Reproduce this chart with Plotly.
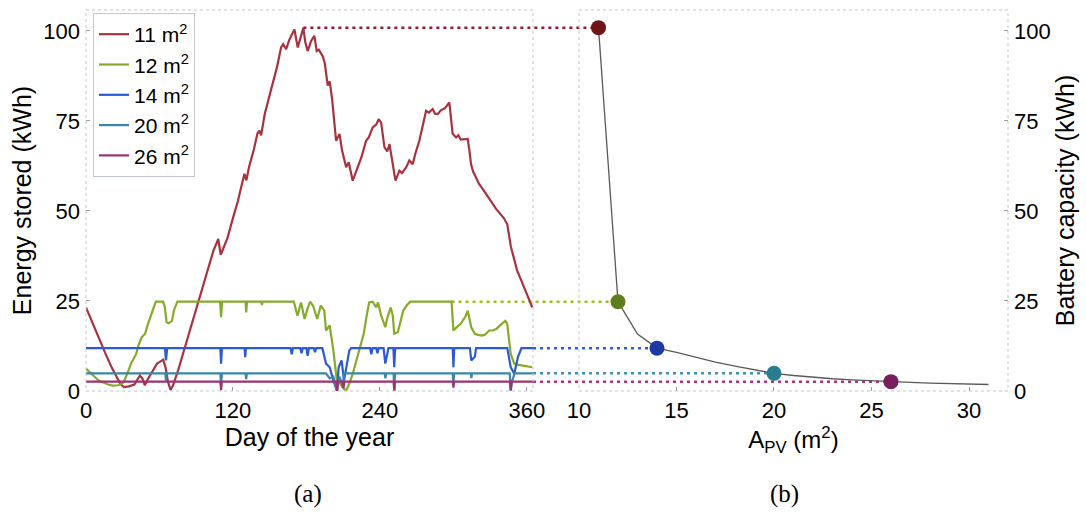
import plotly.graph_objects as go

# ---------------- data ----------------
series_names = ["11 m<sup>2</sup>", "12 m<sup>2</sup>", "14 m<sup>2</sup>", "20 m<sup>2</sup>", "26 m<sup>2</sup>"]
series_area = [11, 12, 14, 20, 26]

day_11 = [0, 5, 10, 16, 21, 25, 28, 31, 35, 39.5, 44, 46, 48, 50, 54, 58, 60, 63, 65, 67, 69, 71, 75, 80, 86, 92,
          98, 104, 108, 110, 112, 115.6, 120, 124, 127, 129.4, 131, 133, 137, 140, 141.6, 143, 146, 150, 152.5, 156,
          159.3, 161, 163.4, 166, 168.8, 170.2, 172.9, 175, 177.5, 179, 181, 183.8, 186.5, 188.4, 190, 193.3, 195,
          197.4, 199, 201, 204.2, 207, 209, 212.4, 214.5, 217.8, 219.5, 221.9, 225, 228.7, 231, 234.1, 237, 239, 241,
          243.7, 246, 247.8, 249, 252.7, 255.9, 258, 261.4, 264, 266.8, 269, 272.2, 275, 277.7, 280, 283.1, 285,
          287.2, 290, 293, 296.7, 298, 299.4, 302.2, 304, 306, 311.7, 313, 314.4, 316, 318.5, 321, 323.9, 327, 330.8,
          335, 341, 344, 347, 349.7, 352, 355.6, 360, 364.4]
val_11 = [23.2, 19, 15, 10.3, 6.5, 3.9, 2.0, 1.1, 1.3, 1.8, 4.3, 3.5, 1.6, 3.0, 5.5, 7.6, 8.0, 8.7, 6.5, 2.5, 0.3, 1.5,
          5.5, 11.2, 18.5, 25.0, 32, 38.9, 42.2, 37.8, 39.5, 42.6, 48, 52.7, 57, 60.3, 58.5, 62, 67, 71.5, 72.3, 71,
          77, 82, 85.2, 90, 95.4, 96.3, 94.9, 97.5, 99.5, 100.4, 95.4, 98, 100.9, 97, 94.4, 97.2, 98.6, 94.4, 94.8, 93,
          91, 84.8, 86, 81, 69.5, 71.4, 67, 62.1, 63.5, 58.4, 60, 62.1, 65, 69.5, 70.5, 73.2, 74, 75.5, 74.5, 67.7,
          66.5, 68.6, 66, 58.4, 61.2, 60.5, 62.1, 64, 63, 66, 69.5, 73.5, 77.8, 77.3, 78.3, 77, 76.9, 78, 78.5, 80.1,
          76, 71.4, 70.4, 71, 69.8, 70, 67, 63, 61, 59.4, 57.5, 56.1, 54.5, 52.9, 50.5, 48.1, 46.3, 40, 36.1, 33.5,
          30.6, 27, 23.2]

day_12 = [0, 4, 7.3, 10, 13.2, 18, 22, 26, 29.3, 31, 33.7, 37, 41, 43, 45.4, 48.3, 50, 52.7, 55, 57, 63, 64.4, 65.8,
          67.5, 70.2, 71.7, 74.6, 109.5, 110.3, 111.2, 130.3, 130.8, 131.5, 143, 143.6, 144.3, 169.7, 172.7, 175.6,
          178.5, 181, 183, 185.5, 188.8, 191.7, 194.6, 196, 199, 202, 203.5, 204.9, 207, 209.3, 212.2, 215, 218, 221,
          224, 226.8, 229, 231.2, 234, 237, 238.5, 241, 244.4, 245.8, 248.8, 250.5, 251.7, 254.6, 257, 259, 262,
          264.8, 298.5, 300, 303, 305.8, 310.2, 311.7, 314.6, 317.5, 320, 323.4, 326, 329.2, 332, 335, 339, 342.4,
          343.9, 346.8, 349.7, 352, 355.6, 360, 364.4]
val_12 = [6.2, 5.0, 3.9, 3.0, 2.5, 1.8, 1.5, 1.6, 2.0, 2.6, 4.8, 7.8, 10.3, 12.8, 14.9, 15.9, 18, 20.5, 23, 24.8, 24.8,
          23.2, 19.1, 18.8, 19.5, 22.3, 24.8, 24.8, 20.5, 24.8, 24.8, 21.8, 24.8, 24.8, 23.9, 24.8, 24.8, 20.9, 24.6,
          20, 23, 24.8, 23.6, 20, 23.7, 22.3, 16.8, 18.2, 11.2, 6, 2.9, 2.4, 1.1, 0, 2, 5, 8.5, 12, 15.9, 20.5, 24.6,
          24.8, 23.2, 24.6, 21, 17.7, 20, 23.2, 21, 15.9, 16.3, 19.5, 22.3, 23.8, 24.8, 24.8, 16.8, 17.8, 18.6, 20.9,
          22.3, 17.7, 15.9, 15.6, 15.4, 15.7, 16.8, 16.8, 17.2, 18.5, 19.5, 18.8, 10.3, 7.6, 7.3, 7.1, 6.8, 6.6]

day_14 = [0, 64.5, 65.3, 66.3, 109.7, 110.3, 111.0, 129.5, 130, 130.6, 167, 168, 169, 175, 176, 177, 180, 181, 182,
          186, 187, 188, 193, 196, 199, 202, 205, 206.3, 208.7, 210.7, 213.6, 215, 216.5, 232, 233, 234, 237, 238,
          239, 243, 244.4, 245.8, 247, 251, 251.7, 252.5, 299.5, 300, 300.7, 313.5, 314.6, 317.5, 318.5, 344, 346.8,
          349.7, 352.7, 355.6, 365]
val_14 = [11.9, 11.9, 8.5, 11.9, 11.9, 7.6, 11.9, 11.9, 9.4, 11.9, 11.9, 10.2, 11.9, 11.9, 10.5, 11.9, 11.9, 9.8,
          11.9, 11.9, 10.8, 11.9, 11.9, 7.6, 6.6, 2.9, 0, 6.6, 8.5, 2.9, 8.5, 11.2, 11.9, 11.9, 10.2, 11.9, 11.9,
          10.5, 11.9, 11.9, 7.6, 10.0, 11.9, 11.9, 6.6, 11.9, 11.9, 6.6, 11.9, 11.9, 8.5, 9.5, 11.9, 11.9, 6.6, 4.8,
          9.4, 11.9, 11.9]

day_20 = [0, 64.8, 65.3, 66, 109.8, 110.3, 110.9, 130.3, 130.8, 131.3, 196, 199, 202, 205, 207, 209.5, 211, 244,
          244.5, 245, 251.2, 251.7, 252.3, 299.5, 300, 300.6, 314.3, 314.7, 315.2, 346, 346.8, 348, 350, 365]
val_20 = [4.9, 4.9, 2.9, 4.9, 4.9, 1.1, 4.9, 4.9, 3.3, 4.9, 4.9, 3.5, 4.0, 0, 4.0, 1.5, 4.9, 4.9, 3.5, 4.9, 4.9, 0,
          4.9, 4.9, 1.6, 4.9, 4.9, 3.6, 4.9, 4.9, 0, 2.8, 4.9, 4.9]

day_26 = [0, 109.8, 110.3, 110.8, 204.5, 205, 205.7, 209.7, 210.3, 211, 251.2, 251.7, 252.3, 299.6, 300, 300.5,
          346.3, 346.8, 347.5, 365]
val_26 = [2.6, 2.6, 0.2, 2.6, 2.6, 0, 2.6, 2.6, 0.8, 2.6, 2.6, 0, 2.6, 2.6, 0.9, 2.6, 2.6, 0.3, 2.6, 2.6]

# battery capacity vs PV area
area_curve = [11, 12, 13, 14, 15, 16, 17, 18, 19, 20, 21, 22, 23, 24, 25, 26, 27, 28, 29, 30, 31]
cap_curve = [100.9, 24.8, 15.8, 11.9, 10.7, 9.3, 8.0, 6.9, 5.9, 4.9, 4.3, 3.8, 3.4, 3.1, 2.8, 2.6, 2.4, 2.2, 2.0,
             1.9, 1.8]

days_list = [day_11, day_12, day_14, day_20, day_26]
vals_list = [val_11, val_12, val_14, val_20, val_26]

# ---------------- styles ----------------
line_colors = ["#a8323e", "#86aa2a", "#2a5ad6", "#3a86aa", "#a0306e"]
dot_line_colors = ["#8e1d2c", "#a4b824", "#2e5ee0", "#3a92b4", "#b2307c"]
marker_colors = ["#6e1616", "#5e7d1c", "#1c3aa0", "#2a7d8e", "#7a1d5e"]

FONT = "Liberation Sans, Arial, Helvetica, sans-serif"
TXT = "#000000"
FS = 22
FT = 25

XL = [0, 365]
XR = [10, 32]
YR = [0, 105.8]
DOM_L = [0.0, 0.4848]
DOM_R = [0.5347, 1.0]

fig = go.Figure()

for i in range(5):
    fig.add_trace(go.Scatter(
        x=days_list[i], y=vals_list[i], mode="lines", name=series_names[i],
        line=dict(color=line_colors[i], width=2.2), legendgroup=str(i),
        xaxis="x", yaxis="y"))

fig.add_trace(go.Scatter(
    x=area_curve, y=cap_curve, mode="lines", line=dict(color="#5a5a5a", width=1.3),
    showlegend=False, xaxis="x2", yaxis="y2"))

# capacities = max stored energy of each series
caps = [max(v) for v in vals_list]

fig.add_trace(go.Scatter(
    x=series_area, y=caps, mode="markers",
    marker=dict(size=15, color=marker_colors, line=dict(width=0)),
    showlegend=False, xaxis="x2", yaxis="y2"))


def paper_left(d):
    return DOM_L[0] + (d - XL[0]) / (XL[1] - XL[0]) * (DOM_L[1] - DOM_L[0])


def paper_right(a):
    return DOM_R[0] + (a - XR[0]) / (XR[1] - XR[0]) * (DOM_R[1] - DOM_R[0])


shapes = []
for i in range(5):
    cap = caps[i]
    d = days_list[i]
    v = vals_list[i]
    start = max(d[k] for k in range(len(d)) if v[k] >= cap - 0.25)
    shapes.append(dict(type="line", xref="paper", yref="y", layer="below",
                       x0=paper_left(start), x1=paper_right(series_area[i]), y0=cap, y1=cap,
                       line=dict(color=dot_line_colors[i], width=2.5, dash="3px,4px")))

# dotted frames for both panels
for xr, yr in (("x domain", "y domain"), ("x2 domain", "y2 domain")):
    shapes.append(dict(type="rect", xref=xr, yref=yr, x0=0, x1=1, y0=0, y1=1, layer="above",
                       line=dict(color="#c2c5d2", width=1, dash="dot")))

axis_common = dict(showgrid=False, zeroline=False, showline=False, ticks="inside", ticklen=4,
                   tickcolor="#9a9aa8", tickfont=dict(family=FONT, size=FS, color=TXT),
                   automargin=False)

fig.update_layout(
    width=1086, height=518,
    margin=dict(l=86, r=78, t=10, b=127),
    paper_bgcolor="white", plot_bgcolor="rgba(0,0,0,0)",
    font=dict(family=FONT, size=FS, color=TXT),
    showlegend=True,
    legend=dict(x=0.0076, y=0.992, xanchor="left", yanchor="top",
                bgcolor="white", bordercolor="#c2c5d2", borderwidth=1,
                font=dict(family=FONT, size=21, color=TXT), tracegroupgap=0,
                itemwidth=30),
    xaxis=dict(domain=DOM_L, range=XL, tickvals=[0, 120, 240, 360], anchor="y",
               title=dict(text="Day of the year", standoff=2,
                          font=dict(family=FONT, size=FT, color=TXT)),
               ticklabelstandoff=4, **axis_common),
    yaxis=dict(domain=[0, 1], range=YR, tickvals=[0, 25, 50, 75, 100], anchor="x",
               title=dict(text="Energy stored (kWh)", standoff=4,
                          font=dict(family=FONT, size=FT, color=TXT)),
               ticklabelstandoff=5, **axis_common),
    xaxis2=dict(domain=DOM_R, range=XR, tickvals=[10, 15, 20, 25, 30], anchor="y2",
                title=dict(text="A<sub>PV</sub> (m<sup>2</sup>)", standoff=4,
                           font=dict(family=FONT, size=24, color=TXT)),
                ticklabelstandoff=4, **axis_common),
    yaxis2=dict(domain=[0, 1], range=YR, tickvals=[0, 25, 50, 75, 100], anchor="x2", side="right",
                title=dict(text="Battery capacity (kWh)", standoff=6,
                           font=dict(family=FONT, size=FT, color=TXT)),
                ticklabelstandoff=5, **axis_common),
    shapes=shapes,
    annotations=[
        dict(text="(a)", xref="paper", yref="paper", x=0.2408, y=-0.27, xanchor="center", yanchor="middle",
             showarrow=False,
             font=dict(family="Liberation Serif, Times New Roman, serif", size=25, color=TXT)),
        dict(text="(b)", xref="paper", yref="paper", x=0.758, y=-0.27, xanchor="center", yanchor="middle",
             showarrow=False,
             font=dict(family="Liberation Serif, Times New Roman, serif", size=25, color=TXT)),
    ],
)

fig.write_html("out.html")
